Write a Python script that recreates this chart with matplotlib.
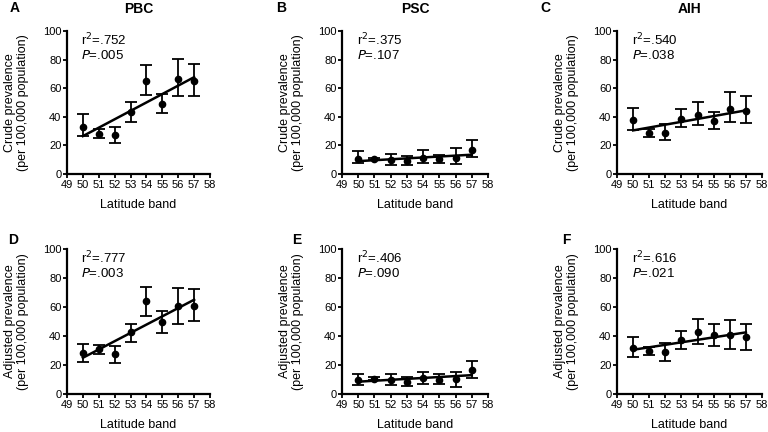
import matplotlib.pyplot as plt
import numpy as np

plt.rcParams['font.family'] = ['Liberation Sans', 'DejaVu Sans']

lat = [50, 51, 52, 53, 54, 55, 56, 57]

# crude prevalence (mean, upper, lower)
pbc_crude = [32.9, 27.8, 27.1, 43.4, 65.0, 49.2, 66.6, 65.0]
pbc_crude_hi = [42.0, 31.3, 33.2, 50.6, 75.9, 55.7, 80.5, 76.8]
pbc_crude_lo = [26.7, 25.3, 22.0, 36.4, 55.2, 42.5, 54.5, 54.3]
psc_crude = [10.5, 10.5, 10.0, 9.0, 11.5, 10.5, 11.5, 17.0]
psc_crude_hi = [15.8, 11.5, 14.0, 12.5, 17.0, 13.5, 18.5, 24.0]
psc_crude_lo = [7.5, 9.5, 6.5, 6.0, 7.5, 7.5, 7.0, 12.0]
aih_crude = [37.5, 28.5, 28.5, 38.5, 41.5, 37.0, 45.5, 44.0]
aih_crude_hi = [46.0, 31.5, 35.0, 45.5, 50.5, 43.5, 57.5, 54.5]
aih_crude_lo = [31.0, 26.0, 23.5, 33.0, 34.5, 31.5, 36.5, 35.5]

# adjusted prevalence
pbc_adj = [28.3, 30.8, 27.8, 42.5, 63.9, 49.9, 60.9, 60.9]
pbc_adj_hi = [34.7, 33.6, 33.3, 48.5, 74.0, 57.5, 73.3, 72.2]
pbc_adj_lo = [22.0, 27.8, 21.6, 35.6, 54.0, 42.0, 48.5, 50.1]
psc_adj = [9.5, 10.5, 9.5, 8.5, 11.0, 10.0, 10.5, 16.5]
psc_adj_hi = [13.5, 11.5, 13.5, 11.5, 15.5, 13.5, 15.5, 22.5]
psc_adj_lo = [6.0, 9.5, 6.0, 5.5, 7.0, 7.0, 5.0, 11.0]
aih_adj = [32.0, 30.0, 29.0, 37.0, 42.5, 40.5, 41.0, 39.0]
aih_adj_hi = [39.0, 32.5, 35.0, 43.5, 51.5, 48.0, 51.0, 48.0]
aih_adj_lo = [25.5, 27.0, 23.0, 31.0, 34.5, 33.0, 31.0, 30.5]

# regression line end points (at 50 and 57)
fit_ends = {
    'A': (26.5, 67.7), 'B': (9.0, 13.5), 'C': (30.5, 44.5),
    'D': (25.0, 65.0), 'E': (8.5, 13.0), 'F': (30.5, 42.5),
}
stats = {
    'A': ('.752', '.005'), 'B': ('.375', '.107'), 'C': ('.540', '.038'),
    'D': ('.777', '.003'), 'E': ('.406', '.090'), 'F': ('.616', '.021'),
}

panels = [
    ('A', 'PBC', pbc_crude, pbc_crude_hi, pbc_crude_lo, 'Crude prevalence'),
    ('B', 'PSC', psc_crude, psc_crude_hi, psc_crude_lo, 'Crude prevalence'),
    ('C', 'AIH', aih_crude, aih_crude_hi, aih_crude_lo, 'Crude prevalence'),
    ('D', None, pbc_adj, pbc_adj_hi, pbc_adj_lo, 'Adjusted prevalence'),
    ('E', None, psc_adj, psc_adj_hi, psc_adj_lo, 'Adjusted prevalence'),
    ('F', None, aih_adj, aih_adj_hi, aih_adj_lo, 'Adjusted prevalence'),
]

fig = plt.figure(figsize=(7.68, 4.32), dpi=100)
W, H = 768, 432
lefts = [67, 342, 617]
widths = [143, 146, 145]
tops = [31, 249]
bottoms = [174, 394]

for i, (letter, title, y, hi, lo, ylab) in enumerate(panels):
    r, c = divmod(i, 3)
    ax = fig.add_axes([lefts[c] / W, 1 - bottoms[r] / H,
                       widths[c] / W, (bottoms[r] - tops[r]) / H])
    y = np.array(y)
    err = [y - np.array(lo), np.array(hi) - y]
    ax.errorbar(lat, y, yerr=err, fmt='o', color='black', ms=4.5,
                capsize=4, elinewidth=1.3, capthick=1.3)
    y0, y1 = fit_ends[letter]
    ax.plot([50, 57], [y0, y1], color='black', lw=1.8)
    ax.set_xlim(49, 58)
    ax.set_ylim(0, 100)
    ax.set_xticks(range(49, 59))
    ax.set_yticks([0, 20, 40, 60, 80, 100])
    ax.tick_params(labelsize=8, width=1.3, length=3, pad=1)
    for s in ['top', 'right']:
        ax.spines[s].set_visible(False)
    for s in ['left', 'bottom']:
        ax.spines[s].set_linewidth(1.6)
    ax.set_xlabel('Latitude band', fontsize=9, labelpad=7)
    ax.set_ylabel(ylab + '\n(per 100,000 population)', fontsize=9,
                  labelpad=10, linespacing=1.15)
    r2, p = stats[letter]
    ax.text(0.1, 0.995, r'r$^2$=' + r2, transform=ax.transAxes,
            fontsize=9.5, va='top')
    ax.text(0.1, 0.875, r'$\it{P}$=' + p, transform=ax.transAxes,
            fontsize=9.5, va='top')
    if title:
        tx = (lefts[c] + widths[c] / 2) / W
        fig.text(tx, 1 - 9 / H, title, fontsize=10, fontweight='bold',
                 ha='center', va='center')

# panel letters
letter_pos = {'A': (10, 8), 'B': (276, 8), 'C': (540, 8),
              'D': (8, 240), 'E': (292, 240), 'F': (562, 240)}
for k, (px, py) in letter_pos.items():
    fig.text(px / W, 1 - py / H, k, fontsize=10, fontweight='bold',
             va='center', ha='left')

fig.savefig('out.png', dpi=100)
